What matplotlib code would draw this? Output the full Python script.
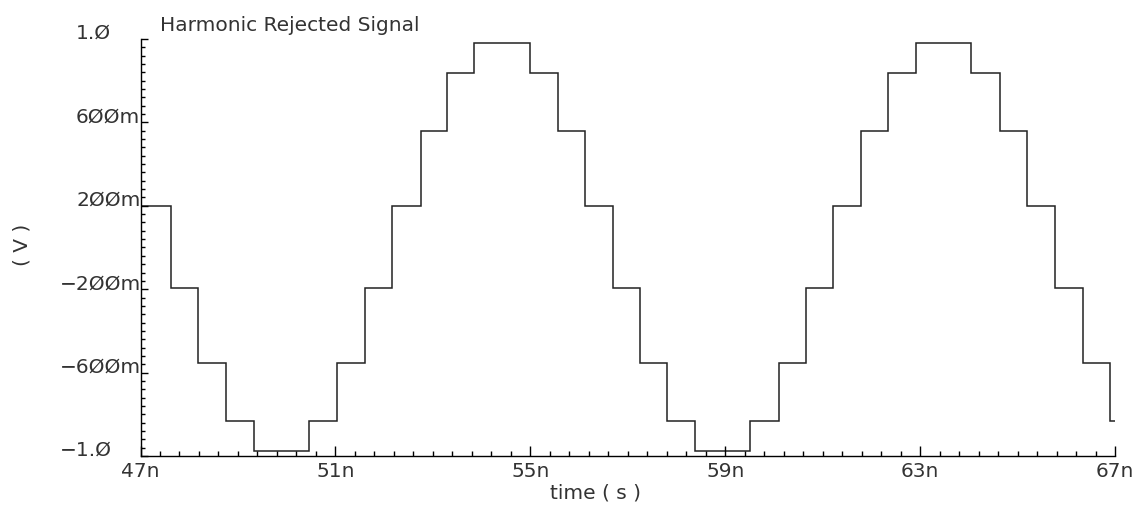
import numpy as np
import matplotlib
matplotlib.use("Agg")
import matplotlib.pyplot as plt
from matplotlib.ticker import FixedLocator, NullFormatter

# step edges (ns) and held level (V)
edges = [47.0, 47.02, 47.62, 48.19, 48.75, 49.32, 50.46, 51.04, 51.60, 52.16,
         52.75, 53.30, 53.85, 54.99, 55.57, 56.13, 56.70, 57.25, 57.81, 58.39,
         59.51, 60.10, 60.65, 61.21, 61.79, 62.35, 62.91, 64.05, 64.63, 65.20,
         65.77, 66.34, 66.90, 67.0]
levels = [0.56, 0.20, -0.195, -0.555, -0.83, -0.975, -0.83, -0.555, -0.195, 0.20,
          0.56, 0.835, 0.98, 0.835, 0.56, 0.20, -0.195, -0.555, -0.83, -0.975,
          -0.83, -0.555, -0.195, 0.20, 0.56, 0.835, 0.98, 0.835, 0.56, 0.20,
          -0.195, -0.555, -0.83]

xticks = [47, 51, 55, 59, 63, 67]
xlabels = ["47n", "51n", "55n", "59n", "63n", "67n"]
yticks = [1.0, 0.6, 0.2, -0.2, -0.6, -1.0]
ylabels = ["1.Ø", "6ØØm", "2ØØm", "−2ØØm", "−6ØØm", "−1.Ø"]

plt.rcParams["font.family"] = ["DejaVu Sans"]
fs = 14.5
tc = "#333333"

fig = plt.figure(figsize=(11.46, 5.08), dpi=100)
ax = fig.add_axes([140.5 / 1146, 1 - 456 / 508, 974.5 / 1146, 417 / 508])

ax.stairs(levels, edges, baseline=None, color="#222222", linewidth=1.1)

ax.set_xlim(47, 67)
ax.set_ylim(-1, 1)

for s in ["top", "right"]:
    ax.spines[s].set_visible(False)
for s in ["left", "bottom"]:
    ax.spines[s].set_linewidth(1.0)

ax.xaxis.set_major_locator(FixedLocator(xticks))
ax.xaxis.set_minor_locator(FixedLocator(np.arange(47, 67.01, 0.4)))
ax.set_xticklabels(xlabels, fontsize=fs, color=tc)
ax.yaxis.set_major_locator(FixedLocator(yticks))
ax.yaxis.set_minor_locator(FixedLocator(np.arange(-1, 1.001, 0.04)))
ax.yaxis.set_major_formatter(NullFormatter())

ax.tick_params(axis="x", which="major", direction="in", length=7.5, width=1.0, pad=4)
ax.tick_params(axis="x", which="minor", direction="in", length=3.6, width=1.0)
ax.tick_params(axis="y", which="major", direction="in", length=5, width=1.0)
ax.tick_params(axis="y", which="minor", direction="in", length=2.8, width=1.0)

# y labels: sign column then digits, baseline on the tick
ytr = ax.get_yaxis_transform()
for v, lab in zip(yticks, ylabels):
    x0 = (60 - 140.5) / 974.5 if lab.startswith("−") else (76 - 140.5) / 974.5
    ax.text(x0, v, lab, transform=ytr, ha="left", va="baseline", fontsize=fs,
            color=tc, clip_on=False)

fig.text(160 / 1146, 1 - 31 / 508, "Harmonic Rejected Signal", ha="left",
         va="baseline", fontsize=fs, color=tc)
fig.text(595 / 1146, 1 - 493 / 508, "time ( s )", ha="center", va="center",
         fontsize=fs, color=tc)
fig.text(22 / 1146, 1 - 245 / 508, "( V )", ha="center", va="center",
         rotation=90, fontsize=fs, color=tc)

fig.savefig("out.png", dpi=100)
